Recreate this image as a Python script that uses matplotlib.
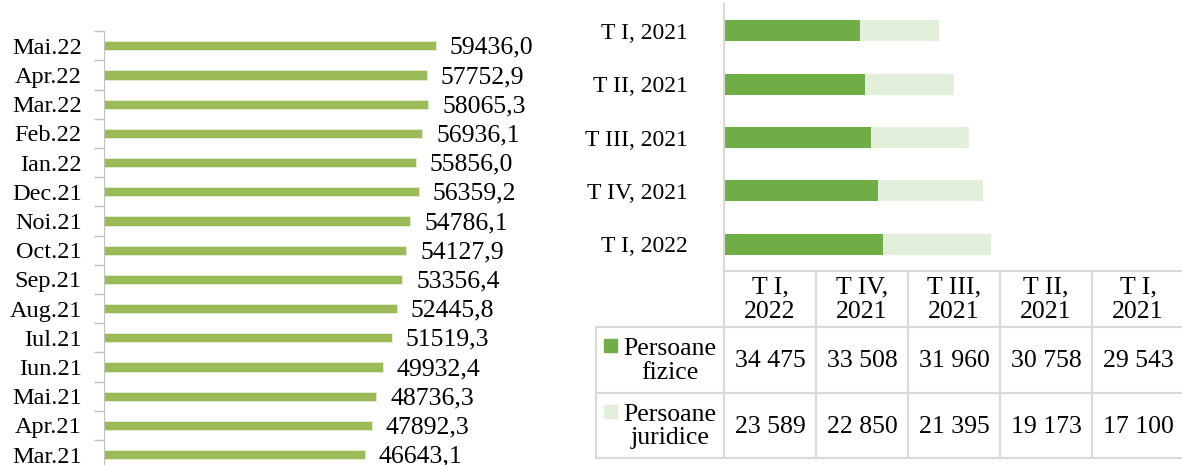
import matplotlib.pyplot as plt
from matplotlib.patches import Rectangle

plt.rcParams["font.family"] = ["Liberation Serif", "DejaVu Serif"]

# ========== Data ==========
months = ["Mar.21", "Apr.21", "Mai.21", "Iun.21", "Iul.21", "Aug.21", "Sep.21",
          "Oct.21", "Noi.21", "Dec.21", "Ian.22", "Feb.22", "Mar.22", "Apr.22", "Mai.22"]
month_values = [46643.1, 47892.3, 48736.3, 49932.4, 51519.3, 52445.8, 53356.4,
                54127.9, 54786.1, 56359.2, 55856.0, 56936.1, 58065.3, 57752.9, 59436.0]

quarters = ["T I, 2022", "T IV, 2021", "T III, 2021", "T II, 2021", "T I, 2021"]
quarter_heads = ["T I,\n2022", "T IV,\n2021", "T III,\n2021", "T II,\n2021", "T I,\n2021"]
fizice = [34475, 33508, 31960, 30758, 29543]
juridice = [23589, 22850, 21395, 19173, 17100]
series_names = ["Persoane\nfizice", "Persoane\njuridice"]

GREEN_L = "#9BBB59"
GREEN_D = "#70AD47"
GREEN_P = "#E2EFDA"
GRID = "#D9D9D9"

W, H = 1182, 465
fig = plt.figure(figsize=(W / 100, H / 100), dpi=100)


def px_rect(x0, y_top, x1, y_bot):
    return [x0 / W, 1 - y_bot / H, (x1 - x0) / W, (y_bot - y_top) / H]


# ========== Left: monthly bars ==========
ax1 = fig.add_axes(px_rect(104, 31.2, 551, 469.2))
ypos = range(len(months))
ax1.barh(ypos, month_values, height=0.31, color=GREEN_L, edgecolor="#E6EED5", linewidth=0.6)
ax1.set_xlim(0, 80000)
ax1.set_ylim(-0.5, len(months) - 0.5)
ax1.set_yticks(list(ypos))
ax1.set_yticklabels(months, fontsize=17.5)
ax1.set_yticks([i + 0.5 for i in range(-1, len(months))], minor=True)
ax1.tick_params(axis="y", which="major", length=0, pad=16)
ax1.tick_params(axis="y", which="minor", length=7, color="#BFBFBF", width=1)
ax1.set_xticks([])
for s in ["top", "right", "bottom"]:
    ax1.spines[s].set_visible(False)
ax1.spines["left"].set_color("#BFBFBF")
for y, v in zip(ypos, month_values):
    ax1.annotate(f"{v:.1f}".replace(".", ","), (v, y), xytext=(10, -1.5),
                 textcoords="offset points", va="center", ha="left", fontsize=18.5)

# ========== Right: stacked quarterly bars ==========
ax2 = fig.add_axes(px_rect(724, 4, 1184, 271))
qpos = range(len(quarters))
ax2.barh(qpos, fizice, height=0.39, color=GREEN_D)
ax2.barh(qpos, juridice, left=fizice, height=0.39, color=GREEN_P)
ax2.set_xlim(0, 100000)
ax2.set_ylim(-0.5, len(quarters) - 0.5)
ax2.set_yticks(list(qpos))
ax2.set_yticklabels(quarters, fontsize=17)
ax2.tick_params(axis="y", length=0, pad=26)
ax2.set_xticks([])
for s in ["top", "right", "bottom"]:
    ax2.spines[s].set_visible(False)
ax2.spines["left"].set_color(GRID)
ax2.spines["left"].set_linewidth(1.5)

# ========== Data table ==========
tab = fig.add_axes([0, 0, 1, 1])
tab.set_xlim(0, W)
tab.set_ylim(H, 0)
tab.axis("off")

col_edges = [724 + 92 * i for i in range(len(quarters) + 1)]
row_edges = [271, 327, 393, 458]
lab_left = 596
lw = 1.5

# horizontal lines
tab.plot([col_edges[0], col_edges[-1]], [row_edges[0]] * 2, color=GRID, lw=lw)
for y in row_edges[1:]:
    tab.plot([lab_left, col_edges[-1]], [y, y], color=GRID, lw=lw)
# vertical lines
for x in col_edges:
    tab.plot([x, x], [row_edges[0], row_edges[-1]], color=GRID, lw=lw)
tab.plot([lab_left, lab_left], [row_edges[1], row_edges[-1]], color=GRID, lw=lw)

for i, head in enumerate(quarter_heads):
    cx = (col_edges[i] + col_edges[i + 1]) / 2
    tab.text(cx, (row_edges[0] + row_edges[1]) / 2 + 1, head, ha="center", va="center",
             fontsize=18.5, linespacing=1.15)

rows = [fizice, juridice]
colors = [GREEN_D, GREEN_P]
for r, (vals, name, c) in enumerate(zip(rows, series_names, colors)):
    cy = (row_edges[r + 1] + row_edges[r + 2]) / 2
    tab.add_patch(Rectangle((604, row_edges[r + 1] + 12), 13, 13, color=c))
    tab.text(670, cy + 1, name, ha="center", va="center", fontsize=18.5, linespacing=1.1)
    for i, v in enumerate(vals):
        cx = (col_edges[i] + col_edges[i + 1]) / 2
        tab.text(cx, cy + 1, f"{v:,}".replace(",", " "), ha="center", va="center", fontsize=18.5)

fig.savefig("out.png", dpi=100)
